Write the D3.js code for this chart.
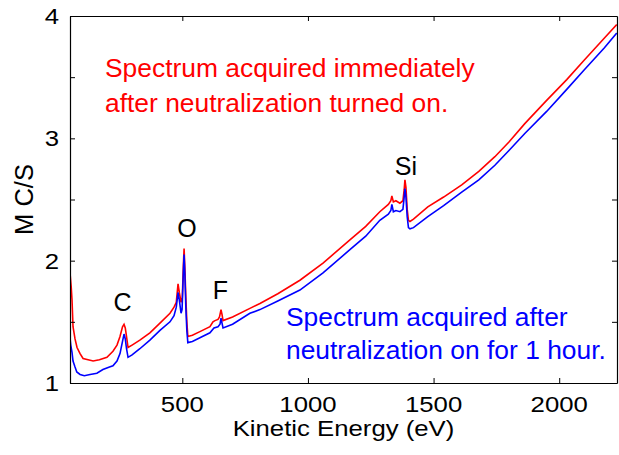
<!DOCTYPE html>
<html><head><meta charset="utf-8">
<script src="https://cdn.jsdelivr.net/npm/d3@7"></script>
<style>body{margin:0;background:#fff}svg{display:block}text{font-family:"Liberation Sans",Arial,sans-serif}</style>
</head><body>
<script>
const redEnergy = [53,58,61,65,73,81,93,105,125,145,170,200,224,240,252,262,268,273,278,284,300,331,371,411,451,467,476,483,488,495,500,504,507,510,514,518,522,540,570,610,622,630,642,648,654,658,662,700,769,809,880,968,1060,1167,1230,1286,1320,1330,1334,1340,1350,1366,1378,1383,1386,1390,1395,1400,1406,1420,1477,1540,1612,1680,1744,1800,1863,1950,2030,2100,2180,2229];
const redValues = [1.90,1.78,1.68,1.46,1.36,1.29,1.24,1.20,1.19,1.18,1.19,1.21,1.26,1.31,1.38,1.46,1.48,1.45,1.38,1.29,1.31,1.35,1.41,1.49,1.57,1.62,1.66,1.81,1.74,1.66,1.70,1.95,2.10,1.95,1.70,1.50,1.38,1.39,1.42,1.46,1.50,1.51,1.52,1.54,1.60,1.56,1.51,1.54,1.61,1.65,1.73,1.84,1.98,2.17,2.28,2.40,2.46,2.49,2.53,2.48,2.49,2.47,2.49,2.58,2.66,2.60,2.42,2.33,2.32,2.34,2.44,2.52,2.62,2.73,2.85,2.97,3.12,3.31,3.48,3.64,3.82,3.93];
const blueEnergy = [53,56,61,65,73,80,93,110,133,160,184,210,224,240,252,262,268,273,278,284,300,331,371,411,451,467,476,483,488,495,499,504,507,510,514,518,522,540,570,610,626,642,650,654,658,662,700,769,809,880,968,1060,1167,1230,1286,1320,1330,1334,1340,1350,1366,1378,1383,1386,1390,1395,1400,1406,1420,1477,1540,1612,1680,1744,1800,1863,1950,2030,2100,2180,2229];
const blueValues = [1.37,1.31,1.25,1.18,1.13,1.09,1.07,1.06,1.07,1.08,1.11,1.13,1.14,1.18,1.24,1.34,1.40,1.36,1.28,1.21,1.23,1.28,1.35,1.43,1.50,1.55,1.62,1.74,1.68,1.57,1.60,1.90,2.05,1.90,1.62,1.43,1.33,1.34,1.37,1.41,1.45,1.46,1.48,1.53,1.49,1.45,1.48,1.57,1.60,1.67,1.76,1.90,2.09,2.20,2.33,2.38,2.41,2.46,2.40,2.41,2.40,2.42,2.52,2.59,2.52,2.36,2.27,2.26,2.27,2.36,2.45,2.56,2.66,2.78,2.90,3.04,3.22,3.40,3.56,3.74,3.86];
const xTicks = [500,1000,1500,2000];
const yTicks = [1,1.5,2,2.5,3,3.5,4];
const yTickLabels = ["1","","2","","3","","4"];
const peakLabels = ["C","O","F","Si"];
const peakEnergies = [262,519,652,1390];
const peakHeights = [1.59,2.19,1.69,2.70];
const redNote = ["Spectrum acquired immediately","after neutralization turned on."];
const blueNote = ["Spectrum acquired after","neutralization on for 1 hour."];

const W=619,H=455, L=70,R=617,T=16,B=383;
const svg=d3.select("body").append("svg").attr("width",W).attr("height",H);
const x=d3.scaleLinear().domain([53,2230]).range([L,R]);
const y=d3.scaleLinear().domain([1,4]).range([B,T]);
const SX=1.17;

svg.append("clipPath").attr("id","c").append("rect").attr("x",L).attr("y",T).attr("width",R-L).attr("height",B-T);
const line=d3.line().x(d=>x(d[0])).y(d=>y(d[1]));
const g=svg.append("g").attr("clip-path","url(#c)");
g.append("path").datum(d3.zip(redEnergy,redValues)).attr("d",line).attr("fill","none").attr("stroke","#ff0000").attr("stroke-width",1.6);
g.append("path").datum(d3.zip(blueEnergy,blueValues)).attr("d",line).attr("fill","none").attr("stroke","#0000ff").attr("stroke-width",1.6);

const ax=svg.append("g");
ax.append("g").attr("transform",`translate(0,${B})`).call(d3.axisBottom(x).tickValues(xTicks).tickSizeInner(-5).tickSizeOuter(0).tickFormat(()=>""));
ax.append("g").attr("transform",`translate(0,${T})`).call(d3.axisTop(x).tickValues(xTicks).tickSizeInner(-5).tickSizeOuter(0).tickFormat(()=>""));
ax.append("g").attr("transform",`translate(${L},0)`).call(d3.axisLeft(y).tickValues(yTicks).tickSizeInner(-5).tickSizeOuter(0).tickFormat(()=>""));
ax.append("g").attr("transform",`translate(${R},0)`).call(d3.axisRight(y).tickValues(yTicks).tickSizeInner(-5).tickSizeOuter(0).tickFormat(()=>""));
ax.selectAll("path.domain").attr("stroke","#000").attr("stroke-width",1.2);
ax.selectAll(".tick line").attr("stroke","#000");

function stext(px,py,str,size,anchor,color,sx){
  return svg.append("text").attr("transform",`translate(${px},${py}) scale(${sx},1)`)
    .attr("font-size",size).attr("text-anchor",anchor).attr("fill",color).text(str);
}
xTicks.forEach(v=>stext(x(v),412,String(v),22,"middle","#000",SX));
yTicks.forEach((v,i)=>{ if(yTickLabels[i]) stext(59,y(v)+8,yTickLabels[i],22,"end","#000",SX); });
stext((L+R)/2,436,"Kinetic Energy (eV)",22,"middle","#000",SX);
svg.append("text").attr("transform",`translate(33,${(T+B)/2}) rotate(-90)`).attr("font-size",25.5).attr("text-anchor","middle").text("M C/S");

peakLabels.forEach((s,i)=>stext(x(peakEnergies[i]),y(peakHeights[i]),s,25,"middle","#000",1));
redNote.forEach((s,i)=>stext(105,77+i*34.5,s,26.4,"start","#ff0000",1));
blueNote.forEach((s,i)=>stext(286,326+i*33,s,26.4,"start","#0000ff",1));
</script>
</body></html>
